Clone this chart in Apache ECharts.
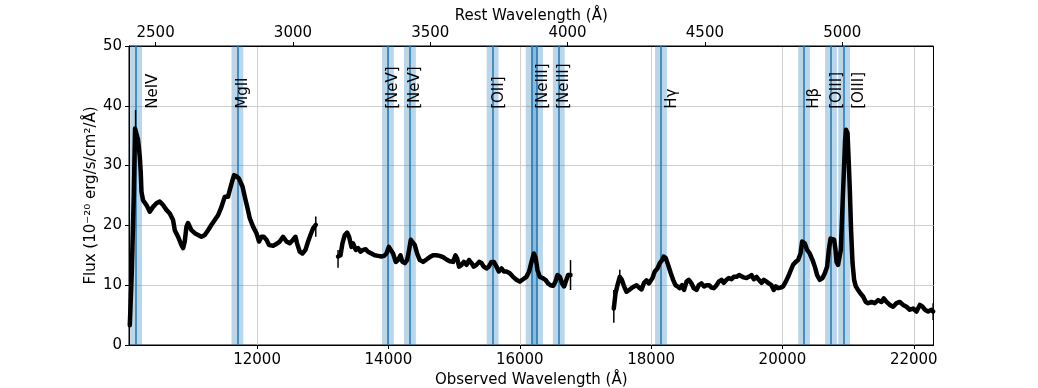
<!DOCTYPE html>
<html><head><meta charset="utf-8">
<script src="https://cdn.jsdelivr.net/npm/echarts@6/dist/echarts.min.js"></script>
<style>html,body{margin:0;padding:0;background:#fff}#c{width:1038px;height:388px}</style>
</head><body><div id="c"></div>
<script>
const onePlusZ = 4.182;
const obsMin = 10050, obsMax = 22300;
const obsTicks = [12000, 14000, 16000, 18000, 20000, 22000];
const restTicks = [2500, 3000, 3500, 4000, 4500, 5000];

const wave1 = [10062,10092,10123,10142,10163,10188,10214,10229,10240,10264,10316,10366,10416,10468,10518,10569,10620,10671,10721,10747,10797,10849,10874,10899,10925,10949,11001,11051,11102,11153,11204,11254,11306,11356,11406,11458,11508,11534,11558,11584,11619,11650,11686,11721,11747,11778,11813,11854,11889,11939,11991,12030,12067,12102,12143,12183,12244,12295,12346,12396,12448,12498,12548,12585,12609,12650,12691,12737,12777,12813,12853,12894];
const flux1 = [3.3,12,25,36.2,36.0,34.3,31.5,28.8,25.6,24.2,23.4,22.3,23.1,23.7,24.0,23.4,22.6,22.0,20.9,19.2,18.1,16.7,16.2,17.3,19.8,20.4,19.2,18.7,18.4,18.1,18.4,19.2,20.1,20.9,21.7,23.1,24.8,24.5,24.8,25.9,27.3,28.4,28.2,27.9,27.7,26.5,24.8,22.9,21.2,19.8,18.7,17.3,18.1,18.1,17.6,16.7,16.6,16.9,17.3,18.1,17.3,17.0,17.6,18.1,17.0,15.6,15.3,15.9,17.3,18.4,19.5,20.1];

const wave2 = [13233,13270,13300,13336,13371,13401,13438,13462,13503,13538,13575,13614,13655,13690,13742,13792,13843,13894,13934,13971,14006,14036,14071,14112,14147,14184,14214,14249,14284,14315,14341,14366,14402,14437,14478,14528,14580,14630,14680,14732,14782,14832,14884,14934,14985,15021,15046,15076,15113,15148,15189,15228,15265,15300,15341,15381,15417,15452,15493,15528,15569,15605,15646,15681,15722,15757,15798,15848,15898,15950,16000,16051,16102,16142,16179,16214,16244,16270,16305,16346,16392,16431,16468,16508,16544,16575,16610,16645,16675,16701,16736,16773];
const flux2 = [14.8,15.0,17.0,18.4,18.8,18.1,16.4,17.0,15.9,16.2,15.6,15.9,16.0,15.6,15.3,15.0,14.9,14.8,14.9,15.3,16.4,15.9,15.3,13.9,14.2,15.0,13.9,13.7,14.2,15.9,17.6,17.8,16.7,15.3,14.2,13.9,14.3,14.7,15.0,15.0,14.9,14.7,14.3,14.0,13.9,15.0,14.5,13.1,13.4,13.9,13.4,14.2,13.7,13.1,13.4,13.9,13.7,13.1,12.8,13.1,13.9,13.9,13.1,12.3,12.8,12.3,12.3,12.0,11.4,10.9,10.6,11.0,11.4,12.3,13.9,15.3,14.5,12.5,11.4,11.2,10.9,10.3,10.0,9.9,10.6,11.7,11.4,10.3,9.8,10.6,11.7,11.7];

const wave3 = [17432,17458,17488,17523,17554,17589,17625,17665,17701,17741,17778,17817,17854,17893,17930,17965,17995,18021,18056,18097,18132,18167,18193,18224,18259,18300,18335,18371,18402,18437,18472,18502,18539,18574,18615,18650,18691,18726,18767,18807,18844,18883,18920,18955,18996,19031,19072,19107,19148,19183,19224,19259,19300,19340,19376,19411,19453,19488,19529,19564,19605,19640,19681,19716,19757,19792,19833,19868,19899,19934,19970,20010,20051,20086,20127,20162,20203,20238,20275,20300,20320,20340,20375,20416,20458,20493,20528,20569,20610,20645,20680,20706,20732,20762,20787,20808,20823,20847,20873,20889,20908,20934,20954,20969,20991,21006,21026,21045,21067,21091,21117,21152,21189,21228,21269,21304,21356,21406,21457,21508,21543,21585,21635,21685,21737,21787,21837,21889,21939,21990,22041,22092,22133,22168,22218,22270,22294];
const flux3 = [6.1,8.6,10.0,11.4,10.9,9.8,8.9,9.2,9.5,9.8,10.0,9.6,9.3,10.4,10.8,10.3,10.0,11.2,12.3,12.8,13.7,14.2,14.8,14.5,13.4,12.0,10.9,10.0,9.8,9.5,10.0,9.2,10.6,10.9,10.3,9.5,9.2,10.0,10.3,9.8,10.0,10.0,9.6,9.5,10.0,10.6,10.9,10.4,10.9,11.2,11.0,11.4,11.4,11.7,11.5,11.3,11.2,11.4,11.7,11.0,11.4,10.9,10.4,10.9,10.6,10.3,10.0,9.2,9.8,9.5,9.6,9.8,10.6,11.4,12.5,13.4,13.9,14.2,15.3,17.3,17.6,17.0,15.9,15.3,14.2,13.1,11.7,10.9,11.2,12.0,13.1,15.9,17.8,18.1,17.6,15.9,13.9,13.4,13.4,15.9,21.5,28.7,34.3,36.0,35.4,31.5,25.9,19.2,13.7,10.9,9.8,9.2,8.6,8.1,7.2,7.0,7.2,7.0,7.5,7.2,7.8,7.2,6.7,6.4,7.0,7.2,6.7,6.4,5.9,6.1,5.6,6.7,6.4,5.9,5.6,5.9,5.6];

const errWave = [10150, 12894, 13233, 16773, 17432, 17523, 22294];
const errLow  = [33.5, 18.1, 12.9, 9.2, 3.7, 10.5, 4.2];
const errHigh = [39.3, 21.5, 15.9, 14.2, 9.2, 12.6, 7.0];

const lineNames = ['NeIV','MgII','[NeV]','[NeV]','[OII]','','[NeIII]','[NeIII]','Hγ','Hβ','[OIII]','[OIII]'];
const lineRest  = [2429, 2798, 3346, 3426, 3727, 3869, 3889, 3968, 4340, 4861, 4959, 5007];
const bandHalfRest = 21.5;
const labelDx = [9.4, -2, -2.5, -2, -1.2, 0, -1.6, -2.3, 3.5, 2.1, -0.9, 7];
const labelFlux = 39.5;

const FONT = 'DejaVu Sans';
const pair = (w, f) => w.map((x, i) => [x, f[i]]);
const gridColor = '#cfcfcf';

const chart = echarts.init(document.getElementById('c'), null, {renderer: 'canvas'});
chart.setOption({
  animation: false,
  backgroundColor: '#fff',
  textStyle: {fontFamily: FONT},
  grid: {left: 129, right: 104.5, top: 46, bottom: 43, show: true, borderColor: '#000', borderWidth: 1,
         backgroundColor: 'transparent', containLabel: false, outerBoundsMode: 'none'},
  xAxis: [{
    type: 'value', position: 'bottom', min: obsMin, max: obsMax,
    name: 'Observed Wavelength (Å)', nameLocation: 'middle', nameGap: 28, nameMoveOverlap: false,
    nameTextStyle: {fontSize: 15, color: '#000', fontFamily: FONT},
    axisLine: {show: true, lineStyle: {color: '#000', width: 1}},
    axisTick: {show: true, length: 4, customValues: obsTicks, lineStyle: {color: '#000'}},
    axisLabel: {customValues: obsTicks, fontSize: 15, color: '#000', margin: 8, fontFamily: FONT, formatter: v => String(v)},
    splitLine: {show: true, lineStyle: {color: gridColor, width: 1}}
  }, {
    type: 'value', position: 'top', min: obsMin / onePlusZ, max: obsMax / onePlusZ,
    name: 'Rest Wavelength (Å)', nameLocation: 'middle', nameGap: 22, nameMoveOverlap: false,
    nameTextStyle: {fontSize: 15, color: '#000', fontFamily: FONT},
    axisLine: {show: true, lineStyle: {color: '#000', width: 1}},
    axisTick: {show: true, length: 4, customValues: restTicks, lineStyle: {color: '#000'}},
    axisLabel: {customValues: restTicks, fontSize: 15, color: '#000', margin: 5, fontFamily: FONT, formatter: v => String(v)},
    splitLine: {show: false}
  }],
  yAxis: [{
    type: 'value', min: 0, max: 50, interval: 10,
    name: 'Flux (10⁻²⁰ erg/s/cm²/Å)', nameLocation: 'middle', nameGap: 30, nameRotate: 90, nameMoveOverlap: false,
    nameTextStyle: {fontSize: 15, color: '#000', fontFamily: FONT},
    axisLine: {show: true, lineStyle: {color: '#000', width: 1}},
    axisTick: {show: true, length: 4, lineStyle: {color: '#000'}},
    axisLabel: {fontSize: 15, color: '#000', margin: 7, fontFamily: FONT},
    splitLine: {show: true, lineStyle: {color: gridColor, width: 1}}
  }],
  series: [
    {
      type: 'line', data: [], z: 1, silent: true,
      markArea: {
        silent: true, z: 1,
        itemStyle: {color: 'rgba(31,119,180,0.3)'},
        data: lineRest.map(r => [{xAxis: (r - bandHalfRest) * onePlusZ}, {xAxis: (r + bandHalfRest) * onePlusZ}])
      },
      markLine: {
        silent: true, z: 2, symbol: 'none', animation: false,
        label: {show: false},
        lineStyle: {color: '#1f77b4', width: 1.5, type: 'solid'},
        data: lineRest.map(r => ({xAxis: r * onePlusZ}))
      }
    },
    ...[pair(wave1, flux1), pair(wave2, flux2), pair(wave3, flux3)].map(d => ({
      type: 'line', data: d, z: 10, showSymbol: false, symbol: 'none', silent: true,
      lineStyle: {color: '#000', width: 4.5, join: 'round', cap: 'round'}
    })),
    {
      type: 'custom', z: 9, silent: true,
      data: errWave.map((w, i) => [w, errLow[i], errHigh[i]]),
      renderItem: (params, api) => {
        const a = api.coord([api.value(0), api.value(1)]);
        const b = api.coord([api.value(0), api.value(2)]);
        return {type: 'line', shape: {x1: a[0], y1: a[1], x2: b[0], y2: b[1]}, style: {stroke: '#000', lineWidth: 1.5}};
      }
    },
    {
      type: 'custom', z: 11, silent: true, clip: false,
      data: lineRest.map((r, i) => [r * onePlusZ, labelFlux, i]).filter(d => lineNames[d[2]] !== ''),
      renderItem: (params, api) => {
        const i = api.value(2);
        const p = api.coord([api.value(0), api.value(1)]);
        return {
          type: 'text', x: p[0] + labelDx[i], y: p[1], rotation: Math.PI / 2,
          style: {text: lineNames[i], fontSize: 15, fontFamily: FONT, fill: '#000', align: 'left', verticalAlign: 'top'}
        };
      }
    }
  ]
});
</script></body></html>
